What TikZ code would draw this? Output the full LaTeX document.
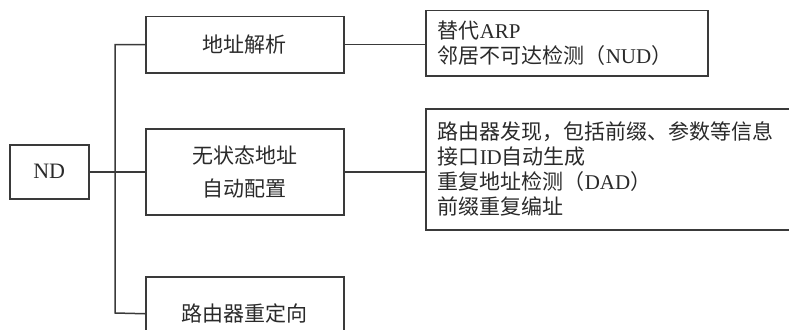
\documentclass[tikz,border=0pt]{standalone}
\usepackage{fontspec}
\setmainfont{Liberation Serif}
\newfontfamily\cjk{Noto Sans CJK SC}
\definecolor{linec}{HTML}{3A3A3A}
\definecolor{textc}{HTML}{2A2A2A}
\begin{document}
\begin{tikzpicture}[x=1pt,y=-1pt,
  box/.style={draw=linec, line width=1.5pt, inner sep=0pt, anchor=north west,
    text=textc, font=\fontsize{21}{25}\selectfont, align=center},
  lbox/.style={box, inner xsep=12pt, align=left},
  conn/.style={draw=linec, line width=1.5pt}]
\useasboundingbox (0,0) rectangle (789,329);
\clip (0,0) rectangle (789,329);
\node[box, minimum width=79pt, minimum height=54pt, font=\fontsize{22}{25}\selectfont] (nd) at (9,144) {ND};
\node[box, minimum width=198pt, minimum height=56pt] (b1) at (145,16) {\cjk 地址解析};
\node[box, minimum width=198pt, minimum height=86pt, font=\fontsize{21}{33}\selectfont] (b2) at (145,128) {\cjk 无状态地址\\\cjk 自动配置};
\node[box, minimum width=198pt, minimum height=74pt] (b3) at (145,276) {\cjk 路由器重定向};
\node[lbox, minimum height=65pt, text width=258pt] (ra) at (425,10)
  {{\cjk 替代}ARP\\{\cjk 邻居不可达检测（}NUD{\cjk ）}};
\node[lbox, minimum height=121pt, text width=360pt] (rb) at (425,108)
  {{\cjk 路由器发现，包括前缀、参数等信息}\\{\cjk 接口}ID{\cjk 自动生成}\\{\cjk 重复地址检测（}DAD{\cjk ）}\\{\cjk 前缀重复编址}};
\coordinate (j3) at (115,313);
\draw[conn] (b1.west) -| (j3) -- (b3.west);
\draw[conn] (nd.east) -- (b2.west);
\draw[conn] (b1.east) -- (ra.west |- b1.east);
\draw[conn] (b2.east) -- (rb.west |- b2.east);
\end{tikzpicture}
\end{document}
